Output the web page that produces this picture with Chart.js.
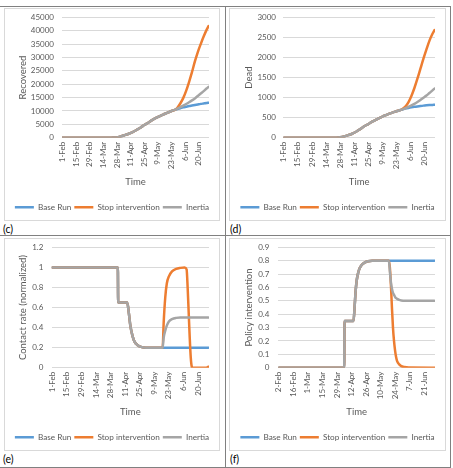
<!DOCTYPE html>
<html>
<head>
<meta charset="utf-8">
<script src="https://cdn.jsdelivr.net/npm/chart.js@4.4.0/dist/chart.umd.min.js"></script>
<style>
  body { margin: 0; background: #fff; }
  #page { position: relative; width: 453px; height: 468px; overflow: hidden; font-family: Lato, sans-serif; }
  .box { position: absolute; border: 1px solid #d9d9d9; }
  .box canvas { display: block; }
  .hl { position: absolute; height: 0; border-top: 1px solid #808080; }
  .vl { position: absolute; width: 0; border-left: 1px solid #808080; }
  .lbl { position: absolute; font-size: 10.5px; line-height: 12px; color: #000; }
</style>
</head>
<body>
<div id="page">
  <div class="box" style="left:4px;top:8px"><canvas id="chartC" width="214" height="211"></canvas></div>
  <div class="box" style="left:229px;top:8px"><canvas id="chartD" width="215" height="211"></canvas></div>
  <div class="box" style="left:4px;top:238px"><canvas id="chartE" width="214" height="211"></canvas></div>
  <div class="box" style="left:229px;top:238px"><canvas id="chartF" width="215" height="211"></canvas></div>

  <div class="lbl" style="left:3px;top:223px">(c)</div>
  <div class="lbl" style="left:230px;top:223px">(d)</div>
  <div class="lbl" style="left:3px;top:453px">(e)</div>
  <div class="lbl" style="left:230px;top:453px">(f)</div>

  <div class="hl" style="left:0;top:6px;width:451px"></div>
  <div class="hl" style="left:0;top:235px;width:451px"></div>
  <div class="hl" style="left:0;top:467px;width:451px"></div>
  <div class="vl" style="left:225px;top:6px;height:461px"></div>
  <div class="vl" style="left:450px;top:6px;height:461px"></div>
</div>

<script>
// Colores y fuente por defecto
Chart.defaults.font.family = 'Lato'
Chart.defaults.color = '#595959'

// Eje X: días desde el primer dato y etiquetas cada 14 días
const tickDays = [0, 14, 28, 42, 56, 70, 84, 98, 112, 126, 140]
const tickLabels1Feb = ['1-Feb', '15-Feb', '29-Feb', '14-Mar', '28-Mar', '11-Apr', '25-Apr', '9-May', '23-May', '6-Jun', '20-Jun']
const tickLabels2Feb = ['2-Feb', '16-Feb', '1-Mar', '15-Mar', '29-Mar', '12-Apr', '26-Apr', '10-May', '24-May', '7-Jun', '21-Jun']

// (c) Recovered
const recDays = [0, 40, 52, 56, 60, 64, 68, 72, 76, 80, 84, 88, 92, 96, 100, 104, 108, 112, 116, 118, 121, 124, 127, 130, 133, 136, 139, 142, 145, 148, 150]
const recShared = [0, 0, 50, 100, 500, 1000, 1500, 2100, 2900, 3750, 4750, 5600, 6600, 7400, 8100, 8750, 9400, 10000, 10500]
const recBase = recShared.concat([10750, 11050, 11350, 11600, 11850, 12050, 12250, 12450, 12650, 12800, 12950, 13100])
const recStop = recShared.concat([11200, 12800, 14800, 17500, 20800, 24500, 28500, 32000, 35000, 37800, 40300, 41700])
const recInertia = recShared.concat([10850, 11400, 12000, 12600, 13250, 13950, 14700, 15600, 16500, 17400, 18400, 19000])

// (d) Dead
const deadDays = recDays
const deadShared = [0, 0, 3, 10, 30, 65, 100, 150, 215, 285, 340, 400, 450, 500, 550, 590, 625, 660, 690]
const deadBase = deadShared.concat([705, 725, 742, 757, 770, 781, 791, 800, 807, 813, 818, 822])
const deadStop = deadShared.concat([715, 775, 880, 1040, 1240, 1470, 1720, 1970, 2200, 2420, 2590, 2680])
const deadInertia = deadShared.concat([705, 735, 770, 805, 845, 890, 940, 995, 1050, 1115, 1180, 1225])

// (e) Contact rate (normalized)
const crDays = [0, 63, 63.3, 72, 73.5, 75, 77, 79, 82, 86, 90, 106, 107, 108.5, 110, 112, 115, 119, 123, 127, 129, 130, 131, 132, 133, 134, 135, 148, 150]
const crShared = [1, 1, 0.65, 0.65, 0.55, 0.42, 0.32, 0.26, 0.225, 0.205, 0.2, 0.2]
const crBase = crShared.concat([0.2, 0.2, 0.2, 0.2, 0.2, 0.2, 0.2, 0.2, 0.2, 0.2, 0.2, 0.2, 0.2, 0.2, 0.2, 0.2, 0.2])
const crStop = crShared.concat([0.45, 0.7, 0.84, 0.91, 0.96, 0.985, 0.995, 1, 0.98, 0.8, 0.55, 0.3, 0.1, 0.01, 0, 0, 0.01])
const crInertia = crShared.concat([0.3, 0.37, 0.42, 0.46, 0.485, 0.497, 0.5, 0.5, 0.5, 0.5, 0.5, 0.5, 0.5, 0.5, 0.5, 0.5, 0.5])

// (f) Policy intervention
const piDays = [0, 63, 63.3, 72, 73, 74, 75, 76.5, 78, 80, 83, 86, 90, 106, 107, 108, 109, 110, 111, 112, 113, 114, 116, 118, 121, 125, 150]
const piShared = [0, 0, 0.35, 0.35, 0.45, 0.57, 0.65, 0.71, 0.745, 0.77, 0.787, 0.796, 0.8, 0.8]
const piBase = piShared.concat([0.8, 0.8, 0.8, 0.8, 0.8, 0.8, 0.8, 0.8, 0.8, 0.8, 0.8, 0.8, 0.8])
const piStop = piShared.concat([0.75, 0.62, 0.45, 0.3, 0.2, 0.13, 0.08, 0.05, 0.025, 0.012, 0.005, 0.001, 0])
const piInertia = piShared.concat([0.72, 0.64, 0.59, 0.56, 0.545, 0.53, 0.52, 0.515, 0.507, 0.503, 0.5, 0.5, 0.5])


printLineChart('chartC', recDays, recBase, recStop, recInertia, tickLabels1Feb, 'Recovered', 45000, 5000, 57, 8, 12.3)
printLineChart('chartD', deadDays, deadBase, deadStop, deadInertia, tickLabels1Feb, 'Dead', 3000, 500, 53.3, 7.3, 13)
printLineChart('chartE', crDays, crBase, crStop, crInertia, tickLabels1Feb, 'Contact rate (normalized)', 1.2, 0.2, 46.7, 8.4, 12.6)
printLineChart('chartF', piDays, piBase, piStop, piInertia, tickLabels2Feb, 'Policy intervention', 0.9, 0.1, 48.3, 9, 13)


// Gráfico de líneas con las tres series (Base Run, Stop intervention, Inertia)
function printLineChart(id, days, base, stop, inertia, tickLabels, yTitle, yMax, yStep, yWidth, yGap, yTitlePad) {

    const toPoints = values => days.map((d, i) => ({ x: d, y: values[i] }))

    const line = (label, color, values, order) => ({
        label,
        data: toPoints(values),
        borderColor: color,
        backgroundColor: color,
        borderWidth: 2.5,
        pointRadius: 0,
        cubicInterpolationMode: 'monotone',
        borderCapStyle: 'round',
        borderJoinStyle: 'round',
        order
    })

    // Inertia se dibuja encima, como en el original
    const data = {
        datasets: [
            line('Base Run', '#5B9BD5', base, 2),
            line('Stop intervention', '#ED7D31', stop, 1),
            line('Inertia', '#A5A5A5', inertia, 0)
        ]
    }

    // El padding de las etiquetas Y también se suma arriba del gráfico,
    // así que el hueco horizontal se completa con una marca de tick invisible
    const yTickPad = 3.5

    const options = {
        responsive: false,
        animation: false,
        layout: { padding: { top: 0, right: 0, bottom: 5.75, left: 0 } },
        scales: {
            x: {
                type: 'linear',
                min: -0.5,
                max: 150.5,
                afterBuildTicks: axis => { axis.ticks = tickDays.map(v => ({ value: v })) },
                afterFit: axis => { axis.height = 62.5 },
                ticks: {
                    minRotation: 90,
                    maxRotation: 90,
                    autoSkip: false,
                    padding: 4,
                    font: { size: 8 },
                    callback: (v, i) => tickLabels[i]
                },
                grid: { display: false, drawTicks: false },
                border: { display: false },
                title: { display: true, text: 'Time', font: { size: 9.5 }, padding: { top: 0, bottom: 13 } }
            },
            y: {
                min: 0,
                max: yMax,
                afterFit: axis => { axis.width = yWidth },
                ticks: {
                    stepSize: yStep,
                    autoSkip: false,
                    padding: yTickPad,
                    font: { size: 8 },
                    callback: v => String(+v.toFixed(2))
                },
                grid: { color: '#d9d9d9', drawTicks: true, tickLength: yGap - yTickPad, tickColor: 'rgba(0,0,0,0)' },
                border: { display: false },
                title: { display: true, text: yTitle, font: { size: 9.5 }, padding: { top: yTitlePad, bottom: 0 } }
            },
            // eje vacío a la derecha, sólo para dejar margen sin estrechar la leyenda
            yRight: {
                position: 'right',
                afterFit: axis => { axis.width = 10 },
                ticks: { display: false },
                grid: { display: false, drawTicks: false },
                border: { display: false }
            }
        },
        plugins: {
            legend: {
                position: 'bottom',
                maxHeight: 14,
                labels: {
                    usePointStyle: true,
                    pointStyle: 'line',
                    pointStyleWidth: 19,
                    padding: 3,
                    font: { size: 8.2 },
                    sort: (a, b) => a.datasetIndex - b.datasetIndex
                }
            },
            tooltip: { enabled: false }
        }
    }

    new Chart(id, { type: 'line', data, options })
}
</script>
</body>
</html>
